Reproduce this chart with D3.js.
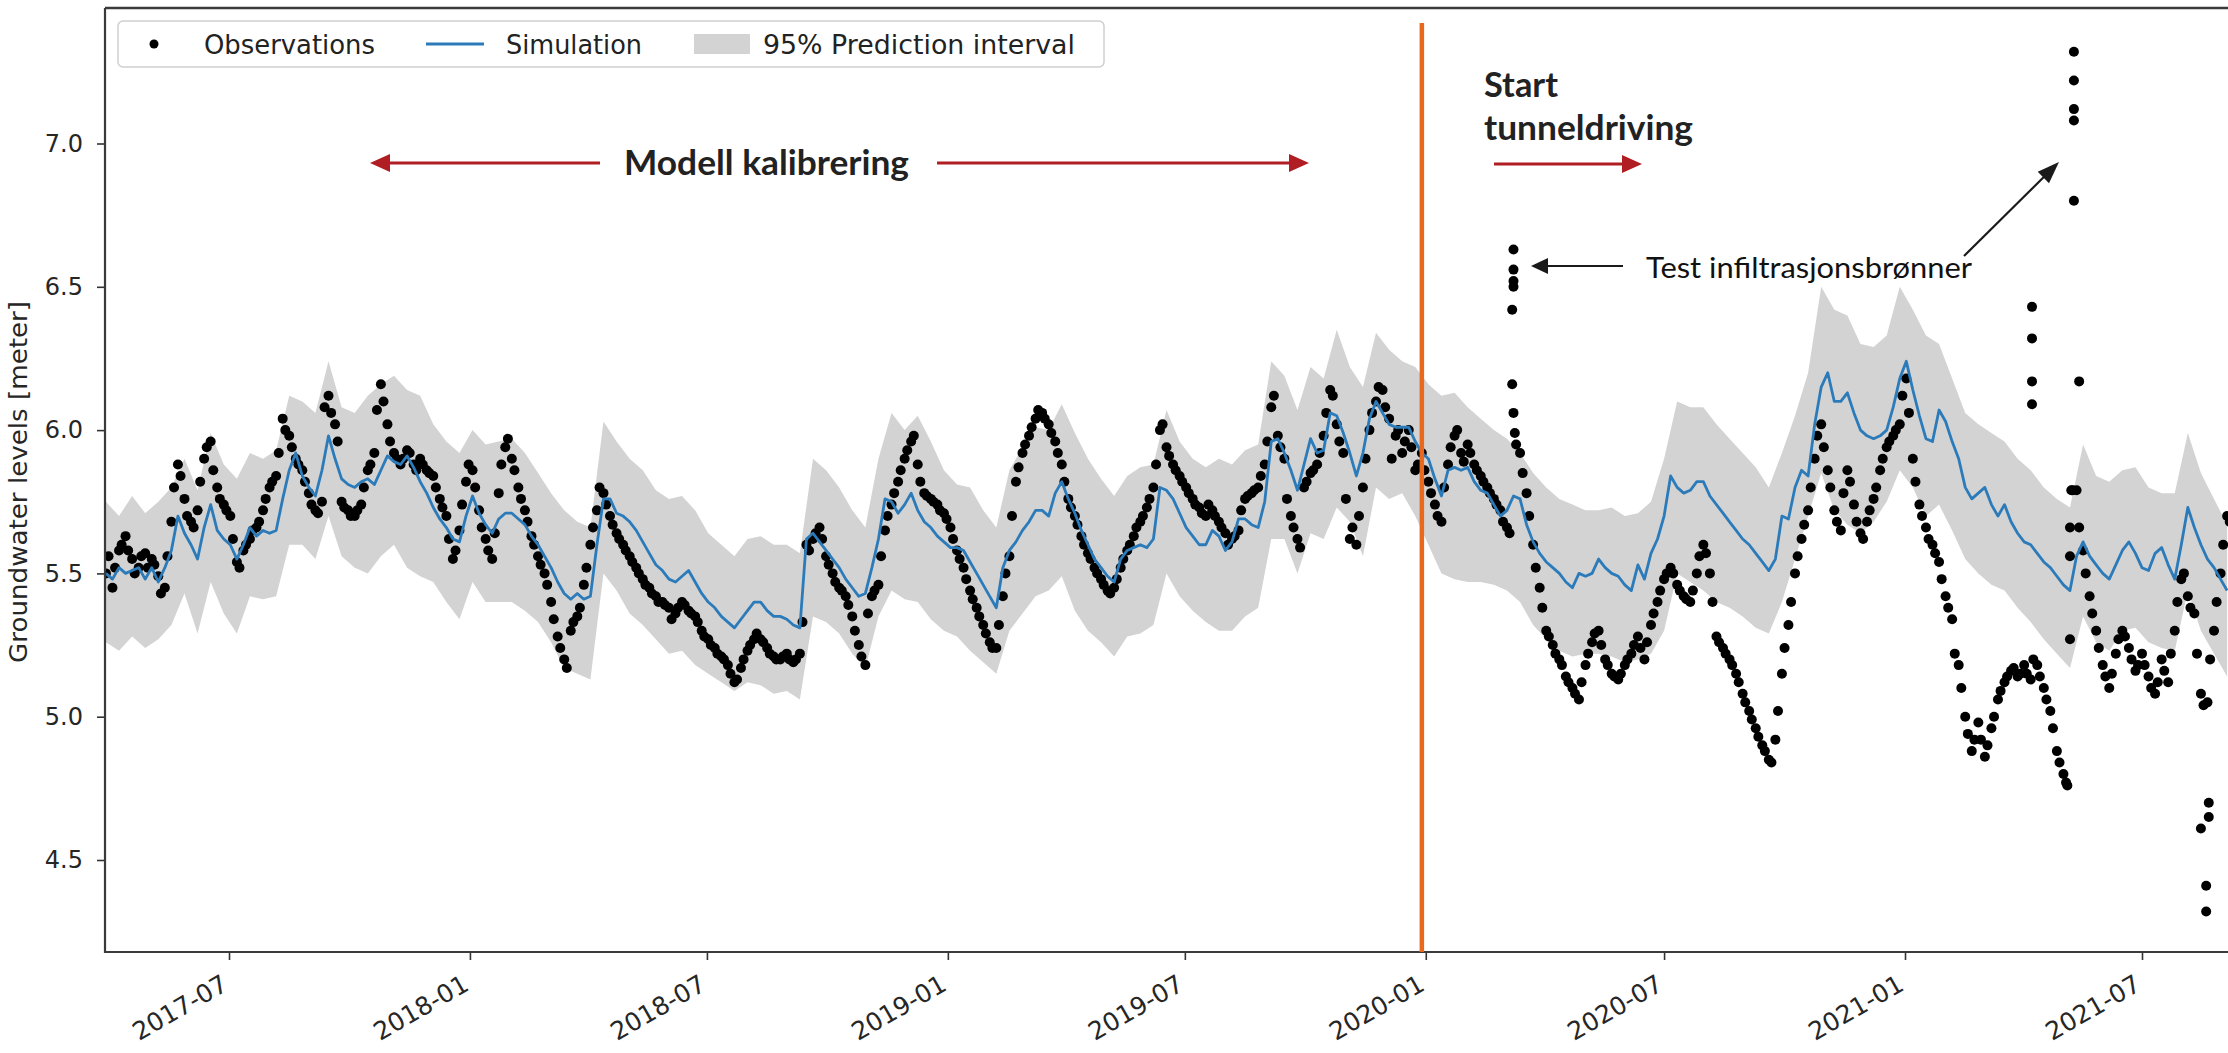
<!DOCTYPE html>
<html>
<head>
<meta charset="utf-8">
<script src="https://cdn.jsdelivr.net/npm/d3@7"></script>
<style>
  body { margin: 0; background: #fff; }
  svg { display: block; }
</style>
</head>
<body>
<svg id="chart" width="2228" height="1053"></svg>
<script>
// ---- data ----
// observations + simulation: one value every 5 days from obsStart
var obsStart = "2017-03-29", obsStep = 5;
var observations = [
  5.50, 5.45, 5.58, 5.63, 5.55, 5.52, 5.57, 5.55, 5.49, 5.45,
  5.68, 5.88, 5.76, 5.68, 5.72, 5.90, 5.96, 5.80, 5.74, 5.70,
  5.54, 5.58, 5.62, 5.66, 5.72, 5.80, 5.84, 6.04, 5.98, 5.90,
  5.86, 5.78, 5.72, 5.75, 6.12, 6.02, 5.75, 5.72, 5.70, 5.74,
  5.86, 5.92, 6.16, 6.02, 5.92, 5.88, 5.93, 5.88, 5.90, 5.86,
  5.84, 5.76, 5.70, 5.55, 5.65, 5.82, 5.86, 5.72, 5.62, 5.55,
  5.78, 5.94, 5.90, 5.80, 5.72, 5.63, 5.56, 5.50, 5.40, 5.28,
  5.20, 5.30, 5.35, 5.46, 5.60, 5.72, 5.78, 5.70, 5.64, 5.60,
  5.56, 5.52, 5.48, 5.45, 5.42, 5.40, 5.38, 5.36, 5.40, 5.37,
  5.35, 5.30, 5.27, 5.24, 5.21, 5.18, 5.12, 5.17, 5.23, 5.27,
  5.27, 5.24, 5.21, 5.20, 5.22, 5.19, 5.22, 5.60, 5.62, 5.66,
  5.56, 5.50, 5.45, 5.42, 5.35, 5.25, 5.18, 5.42, 5.46, 5.65,
  5.74, 5.82, 5.90, 5.96, 5.88, 5.78, 5.76, 5.74, 5.71, 5.66,
  5.58, 5.52, 5.44, 5.38, 5.32, 5.26, 5.24, 5.42, 5.56, 5.82,
  5.92, 5.98, 6.04, 6.06, 6.02, 5.96, 5.88, 5.76, 5.70, 5.63,
  5.57, 5.52, 5.48, 5.44, 5.45, 5.52, 5.58, 5.63, 5.68, 5.73,
  5.80, 6.00, 5.94, 5.88, 5.84, 5.80, 5.76, 5.73, 5.70, 5.72,
  5.68, 5.64, 5.62, 5.65, 5.76, 5.78, 5.80, 5.88, 6.08, 5.98,
  5.90, 5.70, 5.62, 5.80, 5.85, 5.88, 5.98, 6.14, 6.02, 5.92,
  5.62, 5.60, 5.80, 6.00, 6.10, 6.14, 6.04, 5.98, 5.92, 6.00,
  5.86, 5.92, 5.82, 5.74, 5.68, 5.88, 5.98, 5.92, 5.95, 5.88,
  5.84, 5.80, 5.76, 5.72, 5.66, 6.06, 5.92, 5.78, 5.60, 5.45,
  5.30, 5.25, 5.20, 5.14, 5.10, 5.06, 5.18, 5.26, 5.30, 5.20,
  5.15, 5.13, 5.18, 5.22, 5.28, 5.20, 5.32, 5.40, 5.48, 5.52,
  5.46, 5.42, 5.40, 5.50, 5.60, 5.50, 5.28, 5.24, 5.20, 5.15,
  5.08, 5.02, 4.96, 4.90, 4.85, 4.92, 5.15, 5.32, 5.50, 5.62,
  5.72, 5.90, 6.02, 5.86, 5.72, 5.65, 5.86, 5.74, 5.64, 5.68,
  5.76, 5.86, 5.94, 5.98, 6.02, 6.18, 5.90, 5.74, 5.66, 5.60,
  5.54, 5.42, 5.34, 5.18, 5.00, 4.88, 4.98, 4.86, 4.96, 5.06,
  5.12, 5.16, 5.14, 5.18, 5.13, 5.18, 5.10, 5.02, 4.88, 4.80,
  5.27, 5.79, 5.58, 5.42, 5.30, 5.18, 5.10, 5.22, 5.30, 5.24,
  5.16, 5.22, 5.14, 5.08, 5.20, 5.12, 5.30, 5.48, 5.42, 5.36,
  5.08, 5.05, 5.30, 5.50, 5.70
];
// readings in between, every 5 days from obsStart2
var obsStart2 = "2017-03-31";
var observations2 = [
  5.56, 5.52, 5.60, 5.58, 5.50, 5.56, 5.52, 5.53, 5.43, 5.56,
  5.80, 5.84, 5.70, 5.66, 5.82, 5.94, 5.86, 5.76, 5.72, 5.62,
  5.52, 5.60, 5.65, 5.68, 5.76, 5.82, 5.92, 6.00, 5.94, 5.88,
  5.82, 5.74, 5.71, 6.08, 6.06, 5.96, 5.73, 5.70, 5.72, 5.80,
  5.88, 6.07, 6.10, 5.96, 5.90, 5.90, 5.92, 5.86, 5.88, 5.85,
  5.80, 5.73, 5.62, 5.58, 5.74, 5.88, 5.80, 5.66, 5.58, 5.64,
  5.88, 5.97, 5.86, 5.76, 5.68, 5.60, 5.53, 5.46, 5.34, 5.24,
  5.17, 5.33, 5.38, 5.52, 5.66, 5.80, 5.74, 5.67, 5.62, 5.58,
  5.54, 5.50, 5.46, 5.43, 5.40, 5.39, 5.34, 5.38, 5.39, 5.36,
  5.33, 5.28, 5.25, 5.22, 5.20, 5.15, 5.13, 5.20, 5.25, 5.29,
  5.26, 5.22, 5.20, 5.21, 5.20, 5.20, 5.33, 5.58, 5.64, 5.62,
  5.53, 5.47, 5.44, 5.39, 5.30, 5.21, 5.36, 5.44, 5.56, 5.70,
  5.78, 5.86, 5.93, 5.98, 5.82, 5.77, 5.75, 5.72, 5.69, 5.62,
  5.55, 5.48, 5.41, 5.35, 5.29, 5.24, 5.32, 5.50, 5.70, 5.87,
  5.95, 6.01, 6.07, 6.04, 5.99, 5.92, 5.82, 5.73, 5.67, 5.60,
  5.55, 5.50, 5.46, 5.43, 5.48, 5.55, 5.60, 5.66, 5.70, 5.76,
  5.88, 6.02, 5.91, 5.86, 5.82, 5.78, 5.74, 5.71, 5.74, 5.70,
  5.66, 5.60, 5.63, 5.72, 5.77, 5.79, 5.84, 5.96, 6.12, 5.94,
  5.76, 5.66, 5.59, 5.82, 5.86, 5.92, 6.06, 6.12, 5.96, 5.76,
  5.66, 5.70, 5.90, 6.06, 6.15, 6.08, 5.90, 6.00, 5.96, 5.94,
  5.88, 5.86, 5.78, 5.70, 5.80, 5.94, 6.00, 5.89, 5.92, 5.86,
  5.82, 5.78, 5.74, 5.68, 5.64, 5.95, 5.85, 5.70, 5.52, 5.38,
  5.28, 5.22, 5.18, 5.12, 5.08, 5.12, 5.22, 5.29, 5.25, 5.18,
  5.14, 5.15, 5.20, 5.25, 5.24, 5.26, 5.36, 5.44, 5.50, 5.50,
  5.44, 5.41, 5.44, 5.56, 5.57, 5.40, 5.26, 5.22, 5.18, 5.12,
  5.05, 4.99, 4.93, 4.88, 4.84, 5.02, 5.24, 5.40, 5.56, 5.67,
  5.80, 5.98, 5.94, 5.80, 5.68, 5.78, 5.82, 5.68, 5.62, 5.72,
  5.80, 5.90, 5.96, 6.00, 6.12, 6.06, 5.82, 5.70, 5.62, 5.57,
  5.48, 5.38, 5.22, 5.10, 4.94, 4.92, 4.92, 4.90, 5.00, 5.09,
  5.14, 5.17, 5.15, 5.15, 5.20, 5.14, 5.06, 4.96, 4.84, 4.77,
  5.79, 5.66, 5.50, 5.36, 5.24, 5.14, 5.15, 5.27, 5.28, 5.20,
  5.18, 5.18, 5.10, 5.12, 5.16, 5.22, 5.40, 5.50, 5.38, 5.22,
  5.04, 5.20, 5.40, 5.60, 5.68
];
var simulation = [
  5.50, 5.48, 5.52, 5.50, 5.51, 5.52, 5.48, 5.52, 5.47, 5.52,
  5.58, 5.70, 5.64, 5.60, 5.55, 5.66, 5.74, 5.65, 5.62, 5.60,
  5.55, 5.60, 5.66, 5.63, 5.65, 5.64, 5.65, 5.76, 5.86, 5.92,
  5.84, 5.80, 5.77, 5.86, 5.98, 5.90, 5.83, 5.81, 5.80, 5.82,
  5.83, 5.81, 5.86, 5.91, 5.89, 5.88, 5.91, 5.87, 5.82, 5.78,
  5.73, 5.69, 5.66, 5.62, 5.61, 5.70, 5.77, 5.71, 5.67, 5.64,
  5.69, 5.71, 5.71, 5.69, 5.67, 5.63, 5.60, 5.56, 5.52, 5.47,
  5.43, 5.41, 5.43, 5.41, 5.42, 5.60, 5.76, 5.76, 5.71, 5.70,
  5.68, 5.65, 5.61, 5.57, 5.53, 5.51, 5.48, 5.47, 5.49, 5.51,
  5.47, 5.43, 5.40, 5.38, 5.35, 5.33, 5.31, 5.34, 5.37, 5.40,
  5.40, 5.37, 5.35, 5.35, 5.34, 5.32, 5.31, 5.62, 5.64, 5.61,
  5.58, 5.55, 5.52, 5.48, 5.45, 5.42, 5.43, 5.52, 5.62, 5.76,
  5.75, 5.71, 5.74, 5.78, 5.72, 5.68, 5.66, 5.63, 5.61, 5.59,
  5.59, 5.58, 5.54, 5.50, 5.46, 5.42, 5.38, 5.52, 5.58, 5.61,
  5.65, 5.68, 5.72, 5.72, 5.70, 5.78, 5.82, 5.76, 5.71, 5.65,
  5.60, 5.55, 5.52, 5.49, 5.47, 5.55, 5.58, 5.59, 5.60, 5.59,
  5.62, 5.80, 5.79, 5.76, 5.71, 5.66, 5.63, 5.60, 5.60, 5.65,
  5.63, 5.58, 5.61, 5.69, 5.69, 5.67, 5.66, 5.75, 5.96, 5.97,
  5.92, 5.86, 5.79, 5.88, 5.97, 5.92, 5.93, 6.06, 6.05, 5.99,
  5.92, 5.84, 5.92, 6.04, 6.10, 6.06, 6.02, 6.01, 6.01, 6.01,
  5.96, 5.92, 5.90, 5.83, 5.77, 5.86, 5.87, 5.86, 5.87, 5.82,
  5.79, 5.78, 5.74, 5.70, 5.72, 5.77, 5.76, 5.67, 5.61, 5.57,
  5.54, 5.52, 5.50, 5.47, 5.45, 5.50, 5.49, 5.50, 5.55, 5.52,
  5.50, 5.49, 5.46, 5.44, 5.53, 5.48, 5.57, 5.62, 5.70, 5.84,
  5.80, 5.78, 5.79, 5.82, 5.82, 5.77, 5.74, 5.71, 5.68, 5.65,
  5.62, 5.60, 5.57, 5.54, 5.51, 5.55, 5.70, 5.69, 5.80, 5.86,
  5.84, 6.02, 6.15, 6.20, 6.10, 6.10, 6.13, 6.06, 6.00, 5.98,
  5.97, 5.98, 6.00, 6.08, 6.18, 6.24, 6.14, 6.05, 5.97, 5.96,
  6.07, 6.03, 5.96, 5.90, 5.80, 5.76, 5.78, 5.80, 5.74, 5.70,
  5.74, 5.68, 5.64, 5.61, 5.60, 5.57, 5.54, 5.52, 5.49, 5.46,
  5.44, 5.56, 5.61, 5.56, 5.53, 5.50, 5.48, 5.53, 5.58, 5.61,
  5.57, 5.52, 5.51, 5.57, 5.59, 5.53, 5.48, 5.60, 5.73, 5.66,
  5.60, 5.55, 5.52, 5.48, 5.44
];

// 95% prediction interval: one value every 10 days from bandStart
var bandStart = "2017-03-29", bandStep = 10;
var bandUpper = [
  5.75, 5.70, 5.77, 5.71, 5.75, 5.80, 5.90, 5.79, 5.99, 5.88,
  5.83, 5.92, 5.90, 5.93, 6.12, 6.10, 6.06, 6.24, 6.08, 6.06,
  6.12, 6.16, 6.19, 6.14, 6.12, 6.02, 5.96, 5.92, 6.00, 5.95,
  5.96, 5.97, 5.92, 5.85, 5.78, 5.72, 5.68, 5.66, 6.03, 5.96,
  5.90, 5.86, 5.79, 5.76, 5.77, 5.72, 5.64, 5.60, 5.56, 5.62,
  5.63, 5.60, 5.60, 5.57, 5.90, 5.86, 5.80, 5.72, 5.66, 5.90,
  6.06, 6.00, 6.05, 5.96, 5.86, 5.81, 5.80, 5.72, 5.66, 5.86,
  5.94, 6.01, 6.00, 6.09, 5.99, 5.90, 5.83, 5.77, 5.84, 5.87,
  5.88, 6.07, 5.96, 5.90, 5.87, 5.90, 5.88, 5.93, 5.95, 6.24,
  6.19, 6.07, 6.22, 6.18, 6.35, 6.22, 6.15, 6.34, 6.28, 6.24,
  6.22, 6.16, 6.12, 6.13, 6.08, 6.04, 6.00, 5.97, 5.92, 5.85,
  5.80, 5.76, 5.74, 5.72, 5.72, 5.73, 5.70, 5.71, 5.75, 5.90,
  6.10, 6.08, 6.08, 6.02, 5.97, 5.92, 5.87, 5.80, 5.92, 6.05,
  6.20, 6.50, 6.42, 6.40, 6.30, 6.29, 6.33, 6.50, 6.42, 6.33,
  6.30, 6.18, 6.06, 6.02, 5.99, 5.96, 5.90, 5.86, 5.80, 5.76,
  5.73, 5.95, 5.84, 5.82, 5.86, 5.87, 5.80, 5.78, 5.78, 5.99,
  5.85, 5.76, 5.67
];
var bandLower = [
  5.26, 5.23, 5.28, 5.24, 5.27, 5.32, 5.43, 5.29, 5.47, 5.36,
  5.29, 5.42, 5.41, 5.42, 5.60, 5.60, 5.55, 5.70, 5.56, 5.52,
  5.50, 5.56, 5.60, 5.52, 5.49, 5.47, 5.40, 5.34, 5.47, 5.40,
  5.40, 5.40, 5.37, 5.33, 5.26, 5.17, 5.15, 5.13, 5.50, 5.44,
  5.36, 5.32, 5.27, 5.22, 5.23, 5.18, 5.15, 5.12, 5.09, 5.12,
  5.11, 5.08, 5.09, 5.06, 5.35, 5.33, 5.29, 5.22, 5.17, 5.35,
  5.44, 5.41, 5.40, 5.34, 5.30, 5.28, 5.23, 5.19, 5.15, 5.30,
  5.36, 5.42, 5.44, 5.49, 5.37, 5.30, 5.26, 5.21, 5.28, 5.29,
  5.32, 5.50, 5.42, 5.37, 5.33, 5.30, 5.30, 5.35, 5.38, 5.62,
  5.62, 5.50, 5.64, 5.62, 5.73, 5.68, 5.56, 5.80, 5.76, 5.78,
  5.70, 5.60, 5.50, 5.48, 5.47, 5.47, 5.46, 5.44, 5.40, 5.32,
  5.27, 5.23, 5.21, 5.22, 5.22, 5.21, 5.19, 5.20, 5.22, 5.30,
  5.50, 5.47, 5.44, 5.40, 5.38, 5.35, 5.31, 5.29, 5.40, 5.55,
  5.70, 5.85, 5.72, 5.67, 5.64, 5.68, 5.75, 5.86, 5.80, 5.70,
  5.74, 5.65, 5.55, 5.50, 5.46, 5.44, 5.38, 5.33, 5.27, 5.22,
  5.17, 5.35, 5.26, 5.23, 5.30, 5.31, 5.26, 5.24, 5.23, 5.44,
  5.30, 5.22, 5.14
];

// single readings that stand off the regular series (infiltration tests etc.)
var extraDates = [
  "2020-03-07", "2020-03-07", "2020-03-08", "2020-03-08", "2020-03-08", "2020-03-08", "2020-03-09",
  "2021-04-08", "2021-04-08", "2021-04-08", "2021-04-08",
  "2021-05-05", "2021-05-07", "2021-05-07", "2021-05-08",
  "2021-05-10", "2021-05-10", "2021-05-10", "2021-05-10", "2021-05-10", "2021-05-14",
  "2021-08-15", "2021-08-19", "2021-08-19", "2021-08-21", "2021-08-21"
];
var extraValues = [
  6.16, 6.42, 6.50, 6.52, 6.56, 6.63, 5.99,
  6.43, 6.32, 6.17, 6.09,
  4.76, 5.56, 5.66, 5.79,
  7.32, 7.22, 7.12, 7.08, 6.80, 6.17,
  4.61, 4.41, 4.32, 4.70, 4.65
];

var xTicks = ["2017-07", "2018-01", "2018-07", "2019-01", "2019-07",
              "2020-01", "2020-07", "2021-01", "2021-07"];
var yTicks = [4.5, 5.0, 5.5, 6.0, 6.5, 7.0];
var tunnelStart = "2019-12-29";

// ---- layout ----
var plot = {left: 105, right: 2240, top: 8, bottom: 952};

var parse = d3.utcParse("%Y-%m-%d");
var parseMonth = d3.utcParse("%Y-%m");

var x = d3.scaleUtc()
    .domain([parse("2017-07-01"), parse("2021-07-01")])
    .range([229, 2142]);

var y = d3.scaleLinear()
    .domain([4.5, 7.0])
    .range([860, 143.5]);

var svg = d3.select("#chart");

svg.append("defs").append("clipPath").attr("id", "clip")
  .append("rect")
    .attr("x", plot.left).attr("y", plot.top)
    .attr("width", plot.right - plot.left).attr("height", plot.bottom - plot.top);

var t0 = parse(obsStart), t2 = parse(obsStart2);
var series = observations.map(function(v, i) {
  return {date: d3.utcDay.offset(t0, i * obsStep), obs: v, sim: simulation[i]};
});
var series2 = observations2.map(function(v, i) {
  return {date: d3.utcDay.offset(t2, i * obsStep), obs: v};
});
var b0 = parse(bandStart);
var band = bandUpper.map(function(v, i) {
  return {date: d3.utcDay.offset(b0, i * bandStep), hi: v, lo: bandLower[i]};
});
var extras = extraDates.map(function(d, i) { return {date: parse(d), obs: extraValues[i]}; });

var g = svg.append("g").attr("clip-path", "url(#clip)");

// prediction interval
g.append("path")
    .datum(band)
    .attr("fill", "#d3d3d3")
    .attr("d", d3.area()
      .x(function(d) { return x(d.date); })
      .y0(function(d) { return y(d.lo); })
      .y1(function(d) { return y(d.hi); }));

// observations
g.append("g")
  .selectAll("circle")
  .data(series.concat(series2, extras))
  .enter().append("circle")
    .attr("cx", function(d) { return x(d.date); })
    .attr("cy", function(d) { return y(d.obs); })
    .attr("r", 5)
    .attr("fill", "#000");

// simulation
g.append("path")
    .datum(series)
    .attr("fill", "none")
    .attr("stroke", "#2b7bba")
    .attr("stroke-width", 2.8)
    .attr("stroke-linejoin", "round")
    .attr("d", d3.line()
      .x(function(d) { return x(d.date); })
      .y(function(d) { return y(d.sim); }));

// axes
var axisFont = "'DejaVu Sans', sans-serif";

var yAxis = svg.append("g")
    .attr("transform", "translate(" + plot.left + ",0)")
    .call(d3.axisLeft(y).tickValues(yTicks).tickFormat(d3.format(".1f"))
      .tickSize(8).tickPadding(14).tickSizeOuter(0));
yAxis.select(".domain").remove();
yAxis.selectAll("line").attr("stroke", "#333").attr("stroke-width", 1.6);
yAxis.selectAll("text")
    .attr("font-family", axisFont).attr("font-size", 24).attr("fill", "#262626");

var xAxis = svg.append("g")
    .attr("transform", "translate(0," + plot.bottom + ")")
    .call(d3.axisBottom(x).tickValues(xTicks.map(function(d) { return parseMonth(d); }))
      .tickFormat(d3.utcFormat("%Y-%m")).tickSize(8).tickSizeOuter(0));
xAxis.select(".domain").remove();
xAxis.selectAll("line").attr("stroke", "#333").attr("stroke-width", 1.6);
xAxis.selectAll("text")
    .attr("font-family", axisFont).attr("font-size", 25).attr("fill", "#262626")
    .attr("x", 0).attr("y", 0).attr("dy", 0)
    .attr("text-anchor", "end")
    .attr("transform", "translate(0,37) rotate(-30)");

// spines
svg.append("path")
    .attr("d", "M" + plot.left + "," + plot.top + "V" + plot.bottom + "H" + plot.right)
    .attr("fill", "none").attr("stroke", "#3a3a3a").attr("stroke-width", 2.2);
svg.append("line")
    .attr("x1", plot.left).attr("x2", plot.right)
    .attr("y1", plot.top).attr("y2", plot.top)
    .attr("stroke", "#3a3a3a").attr("stroke-width", 2.6);

svg.append("text")
    .attr("transform", "translate(27,482) rotate(-90)")
    .attr("text-anchor", "middle")
    .attr("font-family", axisFont).attr("font-size", 25).attr("fill", "#262626")
    .attr("textLength", 362).attr("lengthAdjust", "spacingAndGlyphs")
    .text("Groundwater levels [meter]");

// start of tunnel work
svg.append("line")
    .attr("x1", x(parse(tunnelStart))).attr("x2", x(parse(tunnelStart)))
    .attr("y1", 23).attr("y2", plot.bottom)
    .attr("stroke", "#e8681e").attr("stroke-width", 4.5);

// legend
var legend = svg.append("g").attr("font-family", axisFont).attr("font-size", 26).attr("fill", "#222");
legend.append("rect")
    .attr("x", 118).attr("y", 21).attr("width", 986).attr("height", 46).attr("rx", 5)
    .attr("fill", "#fff").attr("fill-opacity", 0.85).attr("stroke", "#cfcfcf").attr("stroke-width", 1.5);
legend.append("circle").attr("cx", 154).attr("cy", 44).attr("r", 4.5).attr("fill", "#000");
legend.append("line").attr("x1", 426).attr("x2", 484).attr("y1", 44).attr("y2", 44)
    .attr("stroke", "#2b7bba").attr("stroke-width", 3);
legend.append("rect").attr("x", 694).attr("y", 34).attr("width", 56).attr("height", 20).attr("fill", "#d3d3d3");
[["Observations", 204, 171], ["Simulation", 506, 136], ["95% Prediction interval", 763, 312]].forEach(function(l) {
  legend.append("text").attr("x", l[1]).attr("y", 54)
      .attr("textLength", l[2]).attr("lengthAdjust", "spacingAndGlyphs")
      .text(l[0]);
});

// annotations
function arrow(x1, y1, x2, y2, color, width, headLen, headHalf) {
  var a = Math.atan2(y2 - y1, x2 - x1);
  var bx = x2 - headLen * Math.cos(a), by = y2 - headLen * Math.sin(a);
  svg.append("line")
      .attr("x1", x1).attr("y1", y1).attr("x2", bx + Math.cos(a)).attr("y2", by + Math.sin(a))
      .attr("stroke", color).attr("stroke-width", width);
  var px = -Math.sin(a) * headHalf, py = Math.cos(a) * headHalf;
  svg.append("polygon")
      .attr("points", [[x2, y2], [bx + px, by + py], [bx - px, by - py]].map(function(p) { return p.join(","); }).join(" "))
      .attr("fill", color);
}

var annoFont = "Lato, 'Open Sans', sans-serif";
var red = "#b01e24";

svg.append("text").attr("x", 624).attr("y", 175)
    .attr("font-family", annoFont).attr("font-weight", 700).attr("font-size", 35).attr("fill", "#222")
    .attr("textLength", 285).attr("lengthAdjust", "spacingAndGlyphs")
    .text("Modell kalibrering");
arrow(600, 163, 370, 163, red, 3, 20, 9);
arrow(937, 163, 1309, 163, red, 3, 20, 9);

svg.append("text").attr("x", 1484).attr("y", 97)
    .attr("font-family", annoFont).attr("font-weight", 700).attr("font-size", 35).attr("fill", "#222")
    .attr("textLength", 74).attr("lengthAdjust", "spacingAndGlyphs")
    .text("Start");
svg.append("text").attr("x", 1484).attr("y", 140)
    .attr("font-family", annoFont).attr("font-weight", 700).attr("font-size", 35).attr("fill", "#222")
    .attr("textLength", 209).attr("lengthAdjust", "spacingAndGlyphs")
    .text("tunneldriving");
arrow(1494, 164, 1642, 164, red, 3, 20, 9);

svg.append("text").attr("x", 1646).attr("y", 278)
    .attr("font-family", annoFont).attr("font-size", 29).attr("fill", "#111")
    .attr("textLength", 326).attr("lengthAdjust", "spacingAndGlyphs")
    .text("Test infiltrasjonsbrønner");
arrow(1623, 266, 1531, 266, "#1a1a1a", 2.2, 17, 8);
arrow(1964, 256, 2059, 162, "#1a1a1a", 2.2, 22, 8);
</script>
</body>
</html>
